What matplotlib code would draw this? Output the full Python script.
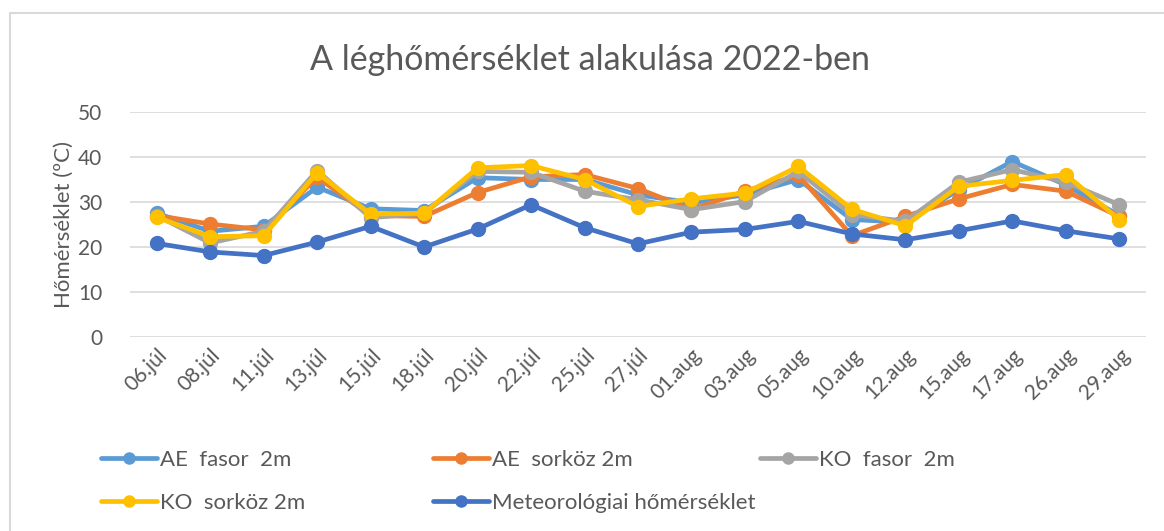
import matplotlib
matplotlib.use("Agg")
import matplotlib.pyplot as plt
from matplotlib.lines import Line2D
from matplotlib.patches import Rectangle

plt.rcParams["font.family"] = ["Lato", "DejaVu Sans"]

dates = ["06.júl", "08.júl", "11.júl", "13.júl", "15.júl", "18.júl", "20.júl",
         "22.júl", "25.júl", "27.júl", "01.aug", "03.aug", "05.aug", "10.aug",
         "12.aug", "15.aug", "17.aug", "26.aug", "29.aug"]

ae_fasor = [27.5, 23.5, 24.6, 33.3, 28.5, 28.1, 35.4, 35.0, 35.0, 31.6, 29.8,
            31.6, 35.0, 26.1, 25.5, 32.7, 39.0, 33.8, 27.0]
ae_sorkoz = [27.0, 25.1, 23.8, 35.5, 27.0, 26.8, 32.1, 35.6, 36.1, 33.0, 28.3,
             32.4, 35.9, 22.5, 26.8, 30.7, 33.9, 32.4, 26.8]
ko_fasor = [27.0, 20.9, 23.5, 37.0, 26.5, 27.5, 36.8, 36.6, 32.4, 30.5, 28.3,
            30.1, 36.8, 27.2, 25.7, 34.4, 37.2, 34.4, 29.4]
ko_sorkoz = [26.6, 22.3, 22.5, 36.5, 27.3, 27.5, 37.6, 38.1, 35.0, 29.0, 30.7,
             32.0, 37.9, 28.4, 24.7, 33.5, 34.8, 36.1, 26.1]
meteo = [20.8, 18.9, 18.1, 21.1, 24.6, 20.0, 24.0, 29.4, 24.3, 20.7, 23.3,
         23.9, 25.7, 22.9, 21.6, 23.6, 25.8, 23.6, 21.8]

series = [
    ("AE  fasor  2m", ae_fasor, "#5B9BD5"),
    ("AE  sorköz 2m", ae_sorkoz, "#ED7D31"),
    ("KO  fasor  2m", ko_fasor, "#A5A5A5"),
    ("KO  sorköz 2m", ko_sorkoz, "#FFC000"),
    ("Meteorológiai hőmérséklet", meteo, "#4472C4"),
]

txt = "#595959"
fig = plt.figure(figsize=(11.64, 5.31), dpi=100)
ax = fig.add_axes([130 / 1164, 1 - 337 / 531, 1016 / 1164, 225 / 531])

x = list(range(len(dates)))
for name, vals, col in series:
    ax.plot(x, vals, color=col, lw=3.4, marker="o", ms=10, label=name,
            solid_capstyle="round", solid_joinstyle="round")

ax.set_xlim(-0.5, len(dates) - 0.5)
ax.set_ylim(0, 50)
ax.set_yticks(range(0, 51, 10))
ax.set_xticks(x)
ax.set_xticklabels(dates, rotation=45, ha="right", rotation_mode="anchor")
ax.tick_params(axis="both", length=0, labelsize=15, labelcolor=txt)
ax.tick_params(axis="y", pad=20)
ax.tick_params(axis="x", pad=6)
ax.grid(axis="y", color="#d9d9d9", lw=1.2)
ax.set_axisbelow(True)
for s in ax.spines.values():
    s.set_visible(False)
ax.set_ylabel("Hőmérséklet (ºC)", fontsize=16, color=txt, labelpad=3)

fig.text(590 / 1164, 1 - 60 / 531, "A léghőmérséklet alakulása 2022-ben",
         ha="center", va="center", fontsize=24.5, color=txt)

# chart-area border
fig.add_artist(Rectangle((10 / 1164, -0.1), 1.2, 1 - 13 / 531 + 0.1,
                         transform=fig.transFigure, fill=False,
                         edgecolor="#d9d9d9", lw=1.5))

pos = [(101, 460), (433, 460), (760, 460), (101, 503), (433, 503)]
for (name, vals, col), (px, py) in zip(series, pos):
    h = Line2D([], [], color=col, lw=3.4, marker="o", ms=8, solid_capstyle="round")
    fig.legend(handles=[h], labels=[name], loc="center left",
               bbox_to_anchor=(px / 1164, 1 - py / 531), frameon=False,
               fontsize=16, labelcolor=txt, handlelength=2.5, handletextpad=0.15,
               borderaxespad=0, borderpad=0)

fig.savefig("out.png", dpi=100)
